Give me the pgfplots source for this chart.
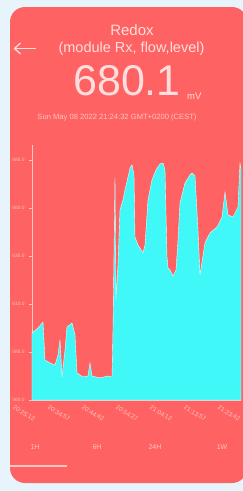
\documentclass[border=0pt]{standalone}
\usepackage{pgfplots}
\pgfplotsset{compat=1.18}
\usepackage{fontspec}
\setmainfont{Liberation Sans}
\definecolor{bgblue}{RGB}{232,244,252}
\definecolor{panel}{RGB}{255,98,98}
\definecolor{fillc}{RGB}{64,248,248}
\definecolor{pale}{RGB}{255,196,196}
\definecolor{txt}{RGB}{255,222,222}
\begin{document}
\begin{tikzpicture}
\useasboundingbox (0,0) rectangle (243pt,-491pt);
\clip (0,0) rectangle (243pt,-491pt);
\fill[bgblue] (0,0) rectangle (243pt,-491pt);
\fill[panel, rounded corners=15pt] (10pt,-7pt) rectangle (247pt,-483pt);
% header
\node[text=txt, font=\fontsize{15}{15}\selectfont] at (132pt,-30pt) {Redox};
\draw[txt, line width=1.3pt] (14pt,-48.5pt) -- (36pt,-48.5pt);
\draw[txt, line width=1.3pt] (20.5pt,-43pt) -- (14.5pt,-48.5pt) -- (20.5pt,-54pt);
\node[text=txt, font=\fontsize{14.5}{15}\selectfont] at (131.5pt,-48.5pt) {(module Rx, flow,level)};
\node[text=txt, anchor=base, font=\fontsize{43}{43}\selectfont] at (127pt,-95pt) {680.1};
\node[text=txt, anchor=base west, inner sep=0pt, font=\fontsize{9.5}{9}\selectfont] at (187pt,-99pt) {mV};
\node[text=pale, font=\fontsize{7.6}{8}\selectfont] at (117pt,-118pt) {Sun May 08 2022 21:24:32 GMT+0200 (CEST)};
% buttons
\node[text=pale, font=\fontsize{7}{7}\selectfont] at (35pt,-447pt) {1H};
\node[text=pale, font=\fontsize{7}{7}\selectfont] at (97pt,-447pt) {6H};
\node[text=pale, font=\fontsize{7}{7}\selectfont] at (155pt,-447pt) {24H};
\node[text=pale, font=\fontsize{7}{7}\selectfont] at (222pt,-447pt) {1W};
\draw[pale, line width=1.4pt] (10pt,-466pt) -- (67pt,-466pt);
\begin{axis}[
  at={(32pt,-400pt)}, anchor=south west,
  scale only axis, width=209pt, height=255pt,
  xmin=0, xmax=209, ymin=560, ymax=692.8,
  axis x line*=bottom, axis y line*=left,
  axis line style={pale, line width=0.6pt},
  tick style={pale, line width=0.5pt},
  tick align=outside, major tick length=3pt,
  xtick style={draw=none},
  ytick={560,585,610,635,660,685},
  yticklabel style={text=pale, font=\fontsize{4.8}{5}\selectfont, xshift=-1pt},
  /pgf/number format/.cd, fixed, fixed zerofill, precision=1, assume math mode=true,
  /pgfplots/.cd,
  xtick={1,36,70,104,138,172,206},
  xticklabels={20:25:12,20:34:57,20:44:42,20:54:27,21:04:12,21:13:57,21:23:42},
  xticklabel style={text=pale, font=\fontsize{6.3}{7}\selectfont, rotate=-31, anchor=north west, xshift=-15pt, yshift=-11pt, inner sep=0pt},
]
\addplot[draw={rgb,255:red,225;green,255;blue,255}, line width=0.4pt, fill=fillc] coordinates {
(0,594.9) (6,597.5) (11,600.6) (13,580.8) (18,579.3) (23,578.2) (26,583.4) (28,591.3)
(30,572.0) (33,586.0) (35,598.0) (40,600.1) (43,593.9) (45,574.1) (51,572.0) (56,572.5)
(58,579.3) (60,572.5) (68,571.5) (76,572.5) (80,572.0) (81,596.5) (83,675.5) (84,612.1)
(86,630.5) (88,659.0) (91,664.2) (93,669.4) (96,676.1) (98,680.8) (100,682.4) (102,677.2)
(103,644.9) (106,640.7) (111,636.6) (113,640.7) (116,664.2) (120,674.6) (124,679.8)
(128,682.9) (131,683.4) (133,679.8) (135,634.5) (136,628.8) (138,627.7) (141,624.6)
(144,627.7) (146,643.3) (148,662.6) (153,673.0) (158,677.2) (160,678.2) (163,676.7)
(166,648.5) (168,625.1) (170,631.9) (173,641.8) (178,647.0) (185,650.1) (190,655.3)
(193,668.3) (196,656.4) (201,655.3) (206,660.5) (208,683.4) (209,680.1)
} \closedcycle;
\end{axis}
\end{tikzpicture}
\end{document}
